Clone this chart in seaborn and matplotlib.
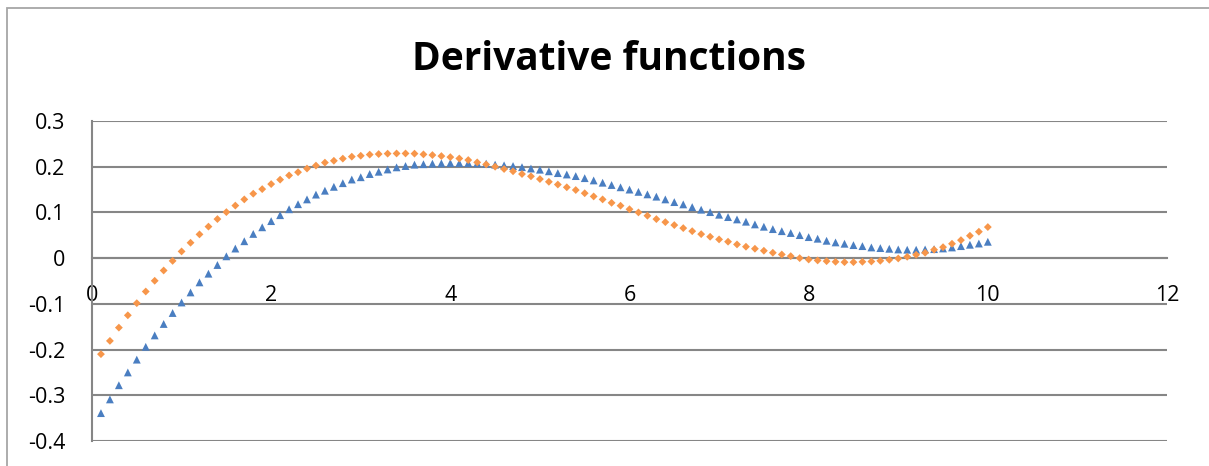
import matplotlib
matplotlib.use("Agg")
import matplotlib.pyplot as plt
from matplotlib.patches import Rectangle
import seaborn as sns
import pandas as pd

x_values = [0.1, 0.2, 0.3, 0.4, 0.5, 0.6, 0.7, 0.8, 0.9, 1.0,
            1.1, 1.2, 1.3, 1.4, 1.5, 1.6, 1.7, 1.8, 1.9, 2.0,
            2.1, 2.2, 2.3, 2.4, 2.5, 2.6, 2.7, 2.8, 2.9, 3.0,
            3.1, 3.2, 3.3, 3.4, 3.5, 3.6, 3.7, 3.8, 3.9, 4.0,
            4.1, 4.2, 4.3, 4.4, 4.5, 4.6, 4.7, 4.8, 4.9, 5.0,
            5.1, 5.2, 5.3, 5.4, 5.5, 5.6, 5.7, 5.8, 5.9, 6.0,
            6.1, 6.2, 6.3, 6.4, 6.5, 6.6, 6.7, 6.8, 6.9, 7.0,
            7.1, 7.2, 7.3, 7.4, 7.5, 7.6, 7.7, 7.8, 7.9, 8.0,
            8.1, 8.2, 8.3, 8.4, 8.5, 8.6, 8.7, 8.8, 8.9, 9.0,
            9.1, 9.2, 9.3, 9.4, 9.5, 9.6, 9.7, 9.8, 9.9, 10.0]

series1_values = [-0.339, -0.309, -0.278, -0.250, -0.222, -0.194, -0.169, -0.144, -0.120, -0.097,
                  -0.075, -0.053, -0.034, -0.015, 0.004, 0.021, 0.037, 0.053, 0.0675, 0.081,
                  0.094, 0.107, 0.118, 0.1285, 0.139, 0.1475, 0.156, 0.164, 0.172, 0.177,
                  0.184, 0.189, 0.194, 0.1986, 0.2015, 0.2045, 0.2055, 0.2067, 0.2074, 0.208,
                  0.208, 0.208, 0.2074, 0.2067, 0.2045, 0.203, 0.2015, 0.199, 0.196, 0.1935,
                  0.190, 0.186, 0.183, 0.1795, 0.175, 0.170, 0.165, 0.160, 0.155, 0.150,
                  0.145, 0.1395, 0.1345, 0.1285, 0.1226, 0.1176, 0.1117, 0.106, 0.1007, 0.095,
                  0.0898, 0.0847, 0.0797, 0.0738, 0.0687, 0.0635, 0.059, 0.055, 0.0504, 0.046,
                  0.0425, 0.038, 0.0344, 0.0315, 0.0285, 0.0263, 0.0234, 0.022, 0.0205, 0.019,
                  0.0184, 0.0184, 0.019, 0.0197, 0.0212, 0.0234, 0.0263, 0.0293, 0.032, 0.0358]

series2_values = [-0.210, -0.181, -0.152, -0.125, -0.0985, -0.073, -0.0495, -0.027, -0.006, 0.0147,
                  0.0337, 0.052, 0.069, 0.0855, 0.1007, 0.115, 0.1285, 0.141, 0.151, 0.162,
                  0.1717, 0.181, 0.188, 0.196, 0.2025, 0.209, 0.213, 0.2177, 0.222, 0.224,
                  0.2265, 0.2277, 0.2286, 0.229, 0.229, 0.2286, 0.227, 0.2255, 0.2233, 0.221,
                  0.218, 0.2146, 0.2095, 0.205, 0.200, 0.195, 0.190, 0.184, 0.179, 0.173,
                  0.167, 0.161, 0.155, 0.149, 0.142, 0.135, 0.1285, 0.121, 0.1147, 0.107,
                  0.100, 0.0928, 0.0854, 0.0788, 0.0723, 0.0657, 0.059, 0.0525, 0.0468, 0.041,
                  0.036, 0.030, 0.025, 0.0206, 0.0162, 0.0118, 0.008, 0.0044, 0.000, -0.003,
                  -0.005, -0.0066, -0.008, -0.0088, -0.0088, -0.008, -0.0073, -0.0058, -0.0036, -0.0007,
                  0.003, 0.0074, 0.0118, 0.0184, 0.024, 0.0315, 0.0394, 0.049, 0.0578, 0.068]

series_names = ["Series1", "Series2"]
x_ticks = [0, 2, 4, 6, 8, 10, 12]
y_ticks = [-0.4, -0.3, -0.2, -0.1, 0, 0.1, 0.2, 0.3]
y_tick_labels = ["-0.4", "-0.3", "-0.2", "-0.1", "0", "0.1", "0.2", "0.3"]
x_tick_labels = ["0", "2", "4", "6", "8", "10", "12"]
title_text = "Derivative functions"

df = pd.concat([
    pd.DataFrame({"x": x_values, "y": series1_values, "series": series_names[0]}),
    pd.DataFrame({"x": x_values, "y": series2_values, "series": series_names[1]}),
])

sns.set_theme(style="white")
plt.rcParams["font.family"] = ["Open Sans", "DejaVu Sans"]

W, H = 1209, 466
fig = plt.figure(figsize=(W / 100, H / 100), dpi=100)
ax = fig.add_axes([92 / W, (H - 441) / H, (1167 - 92) / W, (441 - 121) / H])

sns.scatterplot(data=df, x="x", y="y", hue="series", style="series", size="series",
                markers={series_names[0]: "^", series_names[1]: "D"},
                palette={series_names[0]: "#4A7EC1", series_names[1]: "#F7964A"},
                sizes={series_names[0]: 32, series_names[1]: 16},
                linewidth=0, legend=False, ax=ax, zorder=3)

ax.set_xlim(0, 12)
ax.set_ylim(-0.4, 0.3)
ax.set_xticks(x_ticks)
ax.set_xticklabels(x_tick_labels)
ax.set_yticks(y_ticks)
ax.set_yticklabels(y_tick_labels)
ax.set_xlabel("")
ax.set_ylabel("")

grid_color = "#868686"
ax.grid(axis="y", color=grid_color, linewidth=1.5)
ax.grid(axis="x", visible=False)
ax.set_axisbelow(True)
for side in ["top", "right"]:
    ax.spines[side].set_visible(False)
ax.spines["left"].set_color(grid_color)
ax.spines["left"].set_linewidth(1.5)
ax.spines["bottom"].set_position(("data", 0))
ax.spines["bottom"].set_color(grid_color)
ax.spines["bottom"].set_linewidth(1.5)

ax.tick_params(axis="x", length=0, pad=19, labelsize=15.5, colors="black")
ax.tick_params(axis="y", length=0, pad=19, labelsize=15.5, colors="black")

fig.text(609 / W, 1 - 60 / H, title_text, ha="center", va="center",
         fontsize=28, fontweight="bold", color="black")

fig.add_artist(Rectangle((7 / W, -0.2), 1.5, (H - 8) / H + 0.2,
                         transform=fig.transFigure, fill=False,
                         edgecolor="#A6A6A6", linewidth=1.3))

fig.savefig("out.png", dpi=100, facecolor="white")
